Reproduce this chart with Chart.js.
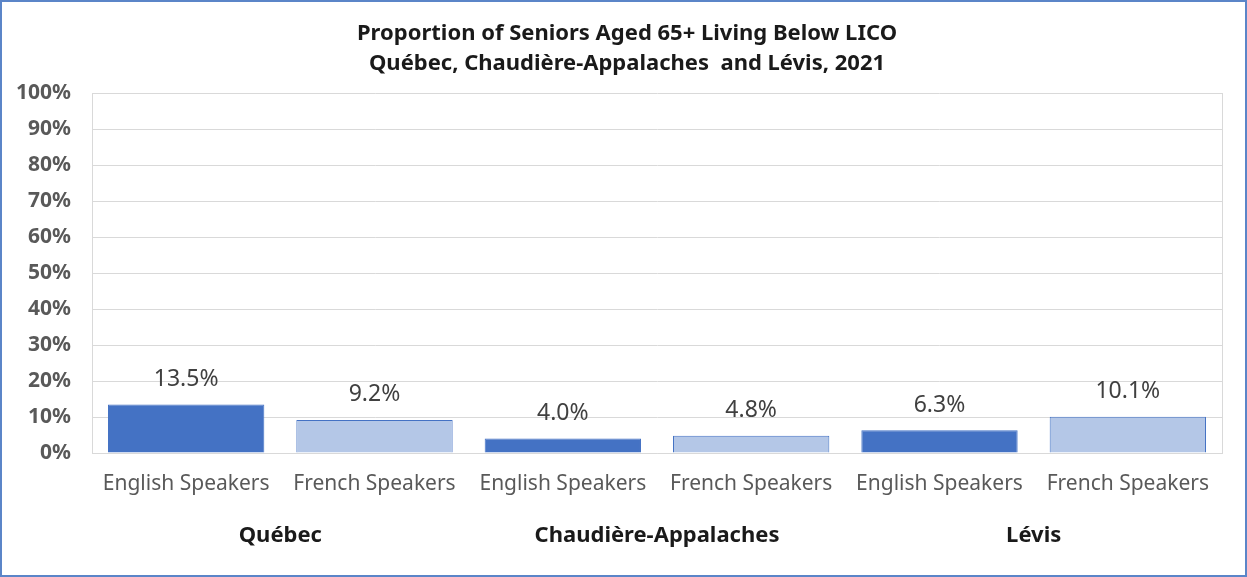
<!DOCTYPE html>
<html>
<head>
<meta charset="utf-8">
<script src="https://cdn.jsdelivr.net/npm/chart.js@4.4.1/dist/chart.umd.min.js"></script>
<style>
  body { margin: 0; background: #fff; }
  #box { position: absolute; left: 0; top: 0; width: 1247px; height: 577px; box-sizing: border-box; border: 2px solid #5B85C8; background: #fff; }
  #liCo { display: block; }
</style>
</head>
<body>
<div id="box"><canvas id="liCo" width="1243" height="573"></canvas></div>
<script>
// chart data
var titleLines = ['Proportion of Seniors Aged 65+ Living Below LICO', 'Québec, Chaudière-Appalaches  and Lévis, 2021'];
var categories = ['English Speakers', 'French Speakers', 'English Speakers', 'French Speakers', 'English Speakers', 'French Speakers'];
var regions = ['Québec', 'Chaudière-Appalaches', 'Lévis'];
var belowLico = [13.5, 9.2, 4.0, 4.8, 6.3, 10.1];
var yTicks = [0, 10, 20, 30, 40, 50, 60, 70, 80, 90, 100];

var darkBlue = '#4472C4';
var lightBlue = '#B4C7E7';
var gridGrey = '#D9D9D9';
var textGrey = '#595959';

var barColours = categories.map(function (c) { return c.indexOf('English') === 0 ? darkBlue : lightBlue; });

// value labels above each bar
var valueLabels = {
    id: 'valueLabels',
    afterDatasetsDraw: function (chart) {
        var c = chart.ctx;
        var meta = chart.getDatasetMeta(0);
        c.save();
        c.font = '23px "Noto Sans"';
        c.fillStyle = '#404040';
        c.textAlign = 'center';
        c.textBaseline = 'middle';
        meta.data.forEach(function (bar, i) {
            c.fillText(belowLico[i].toFixed(1) + '%', bar.x, bar.y - 25);
        });
        c.restore();
    }
};

// title, region names under each pair of categories, right edge of plot area
var extraText = {
    id: 'extraText',
    afterDraw: function (chart) {
        var c = chart.ctx;
        var x = chart.scales.x;
        var area = chart.chartArea;
        c.save();
        c.strokeStyle = gridGrey;
        c.lineWidth = 1;
        c.beginPath();
        c.moveTo(area.right + 0.5, area.top);
        c.lineTo(area.right + 0.5, area.bottom);
        c.stroke();

        c.fillStyle = '#1a1a1a';
        c.textAlign = 'center';
        c.textBaseline = 'middle';
        c.font = 'bold 22px "Noto Sans"';
        titleLines.forEach(function (t, i) {
            c.fillText(t, 625, 32 + i * 30);
        });

        regions.forEach(function (r, i) {
            var mid = (x.getPixelForValue(2 * i) + x.getPixelForValue(2 * i + 1)) / 2;
            c.fillText(r, mid, 534);
        });
        c.restore();
    }
};

var ctx = document.getElementById('liCo').getContext('2d');
var chart = new Chart(ctx, {
    type: 'bar',
    data: {
        labels: categories,
        datasets: [{
            data: belowLico,
            backgroundColor: barColours,
            borderColor: darkBlue,
            borderWidth: 1,
            categoryPercentage: 1,
            barPercentage: 0.83
        }]
    },
    options: {
        responsive: false,
        animation: false,
        layout: { padding: { left: 0, right: 23, top: 91, bottom: 0 } },
        plugins: {
            legend: { display: false },
            tooltip: { enabled: false },
            title: { display: false }
        },
        scales: {
            x: {
                grid: { display: false, drawTicks: false },
                border: { color: gridGrey, width: 1 },
                ticks: {
                    color: textGrey,
                    padding: 18,
                    maxRotation: 0,
                    autoSkip: false,
                    font: { family: 'Noto Sans', size: 21 }
                },
                afterFit: function (scale) { scale.height = 122; }
            },
            y: {
                min: 0,
                max: 100,
                afterBuildTicks: function (scale) {
                    scale.ticks = yTicks.map(function (v) { return { value: v }; });
                },
                grid: { color: gridGrey, drawTicks: false },
                border: { color: gridGrey, width: 1 },
                ticks: {
                    color: textGrey,
                    padding: 21,
                    font: { family: 'Noto Sans', size: 21, weight: 'bold' },
                    callback: function (v) { return v + '%'; }
                },
                afterFit: function (scale) { scale.width = 90; }
            }
        }
    },
    plugins: [valueLabels, extraText]
});
</script>
</body>
</html>
